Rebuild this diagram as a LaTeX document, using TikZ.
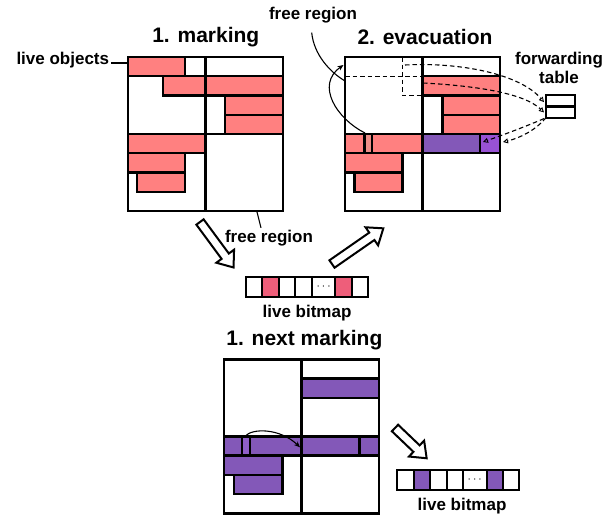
\documentclass[tikz,border=0pt]{standalone}
\usepackage{fontspec}
\setmainfont{Liberation Sans}
\usetikzlibrary{arrows.meta}
\definecolor{objpink}{RGB}{255,128,128}
\definecolor{strippink}{RGB}{236,142,136}
\definecolor{objpurple}{RGB}{131,88,184}
\definecolor{strippurple}{RGB}{143,95,200}
\definecolor{hotpurple}{RGB}{152,82,212}
\definecolor{bitpink}{RGB}{238,94,122}
\newcommand\FatArr[4]{%
  \draw[fatarrow, shift={(#1,#2)}, rotate=#3] (0,-4.5) -- ({#4-14},-4.5) -- ({#4-14},-11) -- (#4,0) -- ({#4-14},11) -- ({#4-14},4.5) -- (0,4.5) -- cycle;}
\begin{document}
\begin{tikzpicture}[x=1pt,y=-1pt,
  ln/.style={line width=2.4pt},
  pk/.style={ln, fill=objpink},
  pks/.style={ln, fill=strippink},
  pu/.style={ln, fill=objpurple},
  pus/.style={ln, fill=strippurple},
  puh/.style={ln, fill=hotpurple},
  dsh/.style={line width=1.1pt, dash pattern=on 4.5pt off 3pt},
  dsharr/.style={dsh, -{Triangle[open,length=5pt,width=5pt,line width=0.9pt]}},
  solarr/.style={line width=1.1pt, -{Stealth[length=6pt,width=5pt]}},
  thinln/.style={line width=1.1pt},
  fatarrow/.style={line width=2pt, fill=white, line join=miter},
  bitcell/.style={line width=2pt},
  lbl/.style={font=\bfseries\fontsize{17}{19.5}\selectfont, inner sep=0pt},
  ttl/.style={font=\bfseries\fontsize{21}{24}\selectfont, inner sep=0pt},
  dotsty/.style={inner sep=0pt, font=\fontsize{13}{13}\selectfont},
]
\useasboundingbox (0,0) rectangle (613,514);

% ---------- titles and labels ----------
\node[ttl] (t1) at (205.8,37) {1. marking};
\node[ttl] (t2) at (425,37) {2. evacuation};
\node[ttl] (t3) at (304.4,339.7) {1. next marking};
\node[lbl] (lo) at (62.8,60) {live objects};
\node[lbl] (fr1) at (313,15.5) {free region};
\node[lbl] (fr2) at (269,238) {free region};
\node[lbl, align=center, anchor=north] (fwd) at (559,51.5) {forwarding\\table};
\node[lbl] (lb1) at (307,313) {live bitmap};
\node[lbl] (lb2) at (462,506) {live bitmap};

% ---------- panel 1: marking ----------
\begin{scope}[shift={(128,57)}]
  \draw[pk] (0,0) rectangle (57,19.25);
  \draw[pk] (35,19.25) rectangle (77.5,38.5);
  \draw[pk] (77.5,19.25) rectangle (155,38.5);
  \draw[pk] (97,38.5) rectangle (155,57.75);
  \draw[pk] (97,57.75) rectangle (155,77);
  \draw[pk] (0,77) rectangle (77.5,96.25);
  \draw[pk] (0,96.25) rectangle (57,115.5);
  \draw[pk] (9,115.5) rectangle (57,134.75);
  \draw[ln] (0,19.25) -- (155,19.25);
  \draw[ln] (77.5,0) -- (77.5,154) (0,77) -- (155,77);
  \draw[ln] (0,0) rectangle (155,154);
\end{scope}

% ---------- panel 2: evacuation ----------
\begin{scope}[shift={(345,57)}]
  \draw[pk] (77.5,19.25) rectangle (155,38.5);
  \draw[pk] (97.5,38.5) rectangle (155,57.75);
  \draw[pk] (97.5,57.75) rectangle (155,77);
  \draw[pk] (0,77) rectangle (77.5,96.25);
  \draw[pks] (19.5,77) rectangle (27,96.25);
  \draw[pu] (77.5,77) rectangle (135,96.25);
  \draw[puh] (135,77) rectangle (155,96.25);
  \draw[pk] (0,96.25) rectangle (57.5,115.5);
  \draw[pk] (9.5,115.5) rectangle (57.5,134.75);
  \draw[dsh] (0,19.25) -- (77.5,19.25);
  \draw[dsh] (57.5,0) -- (57.5,38.5) -- (77.5,38.5);
  \draw[ln] (77.5,0) -- (77.5,154) (0,77) -- (155,77);
  \draw[ln] (0,0) rectangle (155,154);
  \coordinate (strip2) at (20,76);
  \coordinate (free2) at (-1.5,8);
  \coordinate (edge2) at (0,24);
  \coordinate (src1) at (60,8);
  \coordinate (src2) at (78,26);
  \coordinate (dst1) at (138,85);
  \coordinate (dst2) at (158,85);
\end{scope}

% ---------- panel 3: next marking ----------
\begin{scope}[shift={(224,359.3)}]
  \draw[pu] (77.5,19.25) rectangle (155,38.5);
  \draw[pu] (0,77) rectangle (155,96.25);
  \draw[pus] (17.7,77) rectangle (26,96.25);
  \draw[ln] (135.3,77) -- (135.3,96.25);
  \draw[pu] (0,96.25) rectangle (58.3,115.5);
  \draw[pu] (10,115.5) rectangle (58.3,134.75);
  \draw[ln] (77.5,0) -- (77.5,154) (0,77) -- (155,77);
  \draw[ln] (0,0) rectangle (155,154);
  \coordinate (strip3) at (21,77);
  \coordinate (dst3) at (76,88);
\end{scope}

% ---------- forwarding table ----------
\node[draw, line width=1.8pt, minimum width=29pt, minimum height=10.5pt, inner sep=0pt, anchor=north west] (ft1) at (545,94) {};
\node[draw, line width=1.8pt, minimum width=29pt, minimum height=10.5pt, inner sep=0pt, anchor=north] (ft2) at (ft1.south) {};

% ---------- connectors ----------
\draw[thinln] ([shift={(2pt,-3pt)}]lo.east) -- (127,63);
\draw[thinln] ([shift={(-8pt,2pt)}]fr2.north) -- (257,212);
\draw[thinln] ([shift={(-1.3pt,-9pt)}]fr1.south) .. controls (314,55) and (330,72) .. (edge2);
\draw[solarr] (strip2) .. controls (337,119) and (315,85) .. (free2);
\draw[solarr] (strip3) .. controls (252,428) and (280,428) .. (dst3);
\draw[dsharr] (src1) .. controls (460,62) and (520,74) .. ([shift={(-1pt,-2pt)}]ft1.west);
\draw[dsharr] (src2) .. controls (480,86) and (525,94) .. ([xshift=-1pt]ft2.west);
\draw[dsharr] ([xshift=-1pt]ft2.south west) .. controls (522,128) and (500,136) .. (dst1);
\draw[dsharr] ([shift={(1pt,1pt)}]ft2.south west) .. controls (536,130) and (520,138) .. (dst2);

% ---------- fat arrows ----------
\FatArr{200}{222}{-53.6}{56.5}
\FatArr{332}{264}{34.8}{62.5}
\FatArr{395}{428}{-43.7}{43.8}

% ---------- live bitmap 1 ----------
\fill[bitpink] (261.7,276.7) rectangle (279,297.3);
\fill[bitpink] (335,276.7) rectangle (351.7,297.3);
\draw[bitcell] (245.7,276.7) rectangle (367.7,297.3);
\foreach \xx in {261.7,279,295,312.3,335,351.7} \draw[bitcell] (\xx,276.7) -- (\xx,297.3);
\node[dotsty] (dots1) at (323.65,287) {$\cdots$};

% ---------- live bitmap 2 ----------
\fill[objpurple] (414.3,470) rectangle (430,490);
\fill[objpurple] (486.7,470) rectangle (502.7,490);
\draw[bitcell] (397.3,470) rectangle (519.3,490);
\foreach \xx in {414.3,430,446.7,462.7,486.7,502.7} \draw[bitcell] (\xx,470) -- (\xx,490);
\node[dotsty] (dots2) at (474.7,480) {$\cdots$};
\end{tikzpicture}
\end{document}
